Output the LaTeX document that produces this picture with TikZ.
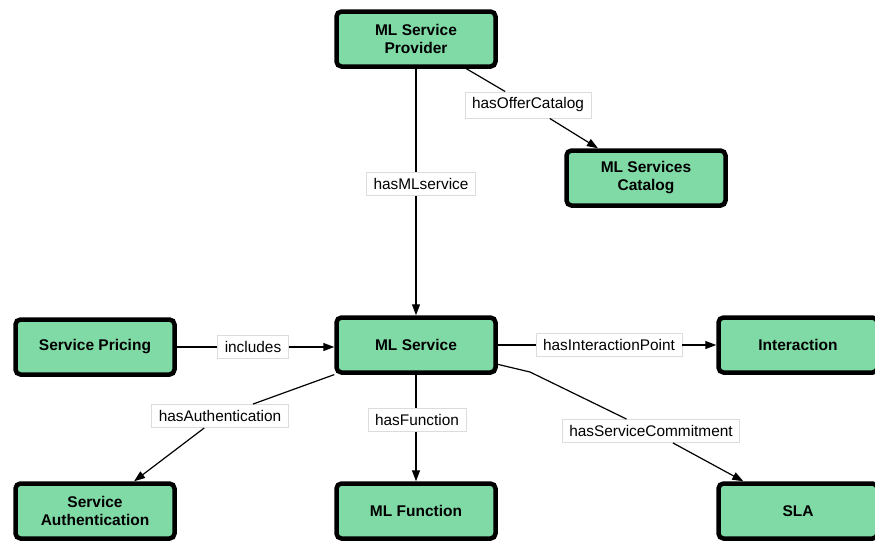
\documentclass[tikz,border=0pt]{standalone}
\usepackage{fontspec}
\setmainfont{Liberation Sans}
\usetikzlibrary{arrows.meta,shadows}
\definecolor{mlgreen}{RGB}{128,218,166}
\definecolor{lblgray}{RGB}{220,220,220}

\begin{document}
\begin{tikzpicture}[x = 1pt, y = -1pt,
  concept/.style = {draw, fill = mlgreen, line width = 4.5pt, rounded corners = 5pt,
    minimum width = 159pt, minimum height = 55pt, align = center,
    font = \fontsize{15.5}{18}\selectfont\bfseries,
    drop shadow = {shadow xshift = 1.5pt, shadow yshift = -2pt, opacity = .35, fill = black}},
  rel/.style = {draw = lblgray, fill = white, line width = .6pt,
    inner xsep = 7pt, inner ysep = 6pt, font = \fontsize{15.4}{18}\selectfont},
  link/.style = {line width = 1.2pt, -{Triangle[length = 11pt, width = 8pt]}}]
\useasboundingbox (0,0) rectangle (875,542);

% concepts
\node [concept] (provider) at (416,39) {ML Service\\Provider};
\node [concept] (catalog) at (646,178) {ML Services\\Catalog};
\node [concept] (pricing) at (95,347) {Service Pricing};
\node [concept] (service) at (416,345) {ML Service};
\node [concept] (interaction) at (798,345) {Interaction};
\node [concept] (auth) at (95,511) {Service\\Authentication};
\node [concept] (function) at (416,511) {ML Function};
\node [concept] (sla) at (798,511) {SLA};

% relation labels
\node [rel] (offer) at (528,105) {hasOfferCatalog};
\node [rel] (hasml) at (421,184) {hasMLservice};
\node [rel] (includes) at (253,347) {includes};
\node [rel] (hasauth) at (220,416) {hasAuthentication};
\node [rel] (hasfunc) at (417,420) {hasFunction};
\node [rel] (hasinter) at (609,345) {hasInteractionPoint};
\node [rel] (commit) at (651,431) {hasServiceCommitment};
\coordinate (bend) at (530,372);

% links
\draw [link] (provider) -- (offer) -- (catalog);
\draw [line width = 1.2pt] (provider.south) -- (provider.south |- hasml.north);
\draw [link] (provider.south |- hasml.south) -- (service.north);
\draw [link] (pricing.east |- includes) -- (includes) -- (service.west |- includes);
\draw [link] (service) -- (hasauth) -- (auth);
\draw [line width = 1.2pt] (service.south) -- (service.south |- hasfunc.north);
\draw [link] (service.south |- hasfunc.south) -- (function.north);
\draw [link] (service.east |- hasinter) -- (hasinter) -- (interaction.west |- hasinter);
\draw [link] (service) -- (bend) -- (commit) -- (sla);
\end{tikzpicture}
\end{document}
